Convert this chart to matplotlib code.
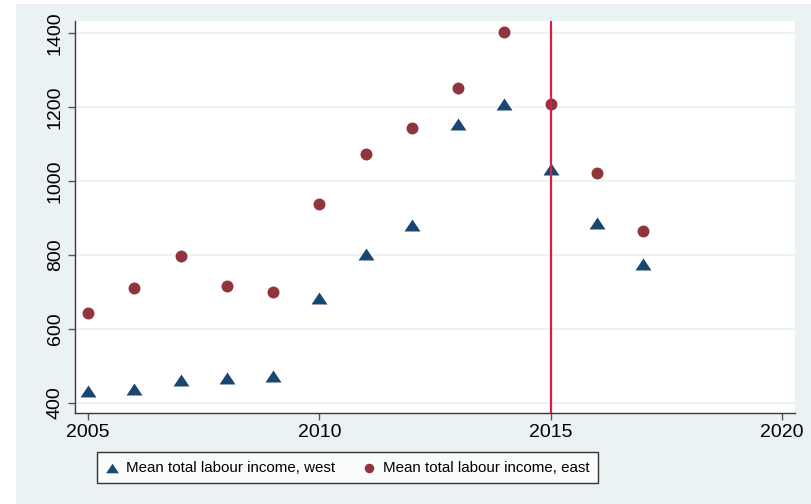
import matplotlib.pyplot as plt
from matplotlib.patches import Rectangle

# mean total labour income by year
years = [2005, 2006, 2007, 2008, 2009, 2010, 2011, 2012, 2013, 2014, 2015, 2016, 2017]
west = [433, 437, 462, 468, 472, 683, 803, 880, 1155, 1207, 1032, 885, 776]
east = [644, 711, 797, 717, 700, 937, 1073, 1143, 1251, 1401, 1209, 1021, 866]

xticks = [2005, 2010, 2015, 2020]
yticks = [400, 600, 800, 1000, 1200, 1400]
cutoff = 2015

plt.rcParams['font.family'] = ['Liberation Sans', 'DejaVu Sans']

W, H = 812, 504
fig = plt.figure(figsize=(W / 100, H / 100), dpi=100)
fig.patch.set_facecolor('white')
# light graph region behind the plot
fig.patches.append(Rectangle((16 / W, 0), 1 - 16 / W, (H - 4) / H,
                             transform=fig.transFigure, facecolor='#EAF2F3',
                             edgecolor='none', zorder=-5))

ax = fig.add_axes([75 / W, 91 / H, 720 / W, 392 / H])
ax.set_facecolor('white')

# slightly flattened triangle
tri = [(0, 0.75), (-1, -0.75), (1, -0.75), (0, 0.75)]
ax.scatter(years, west, marker=tri, s=11.5 ** 2, color='#1A476F', linewidths=0,
           label='Mean total labour income, west', zorder=3)
ax.scatter(years, east, marker='o', s=8.6 ** 2, color='#90353B', linewidths=0,
           label='Mean total labour income, east', zorder=3)
ax.axvline(cutoff, color='#D81E46', lw=1.6, zorder=4)

ax.set_xlim(2004.72, 2020.28)
ax.set_ylim(373, 1432)
ax.set_xticks(xticks)
ax.set_yticks(yticks)
ax.grid(axis='y', color='#EAF2F3', lw=1.2)
ax.set_axisbelow(True)

for s in ['top', 'right']:
    ax.spines[s].set_visible(False)
for s in ['left', 'bottom']:
    ax.spines[s].set_color('#3a3a3a')
    ax.spines[s].set_linewidth(1.0)

ax.tick_params(axis='both', length=5, width=1, color='#555555', labelsize=14,
               labelcolor='black', pad=3)
for lab in ax.get_yticklabels():
    lab.set_rotation(90)
    lab.set_va('center')

leg = fig.legend(loc='center', bbox_to_anchor=(347.5 / W, 1 - 467.5 / H),
                 ncol=2, fontsize=10.9, frameon=True, fancybox=False,
                 edgecolor='black', handletextpad=0.45, columnspacing=1.8,
                 borderpad=0.55, handlelength=0.9, markerscale=0.8)
leg.get_frame().set_linewidth(1.0)

fig.savefig('out.png', dpi=100)
